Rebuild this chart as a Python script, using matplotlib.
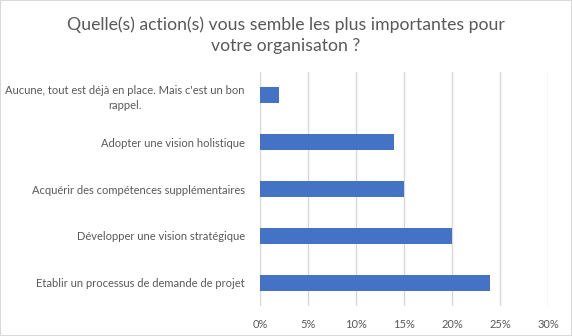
import matplotlib.pyplot as plt
from matplotlib.patches import Rectangle

plt.rcParams["font.family"] = ["Lato", "DejaVu Sans"]

categories = [
    "Etablir un processus de demande de projet",
    "Développer une vision stratégique",
    "Acquérir des compétences supplémentaires",
    "Adopter une vision holistique",
    "Aucune, tout est déjà en place. Mais c'est un bon\nrappel.",
]
values = [24, 20, 15, 14, 2]
ticks = [0, 5, 10, 15, 20, 25, 30]
title = "Quelle(s) action(s) vous semble les plus importantes pour\nvotre organisaton ?"

text_color = "#595959"
grid_color = "#D9D9D9"
bar_color = "#4472C4"

fig = plt.figure(figsize=(5.72, 3.36), dpi=100)
ax = fig.add_axes([0.4545, 0.088, 0.5035, 0.699])

y = list(range(len(categories)))
ax.barh(y, values, height=0.34, color=bar_color, zorder=3)
ax.set_ylim(-0.5, len(categories) - 0.5)
ax.set_xlim(0, 30)
ax.set_xticks(ticks)
ax.set_xticklabels([f"{t}%" for t in ticks])
ax.set_yticks(y)
ax.set_yticklabels(categories, multialignment="center", linespacing=1.4)
ax.tick_params(axis="both", length=0, labelsize=8.0, colors=text_color)
ax.tick_params(axis="x", pad=9)
ax.tick_params(axis="y", pad=11)
ax.grid(axis="x", color=grid_color, linewidth=1, zorder=0)
for s in ax.spines.values():
    s.set_visible(False)

fig.suptitle(title, x=0.5, y=0.952, fontsize=12.7, color=text_color, va="top", linespacing=1.4)
fig.patches.append(Rectangle((0, 0), 1, 1, transform=fig.transFigure, fill=False,
                             edgecolor=grid_color, linewidth=1.5))

fig.savefig("out.png", dpi=100)
